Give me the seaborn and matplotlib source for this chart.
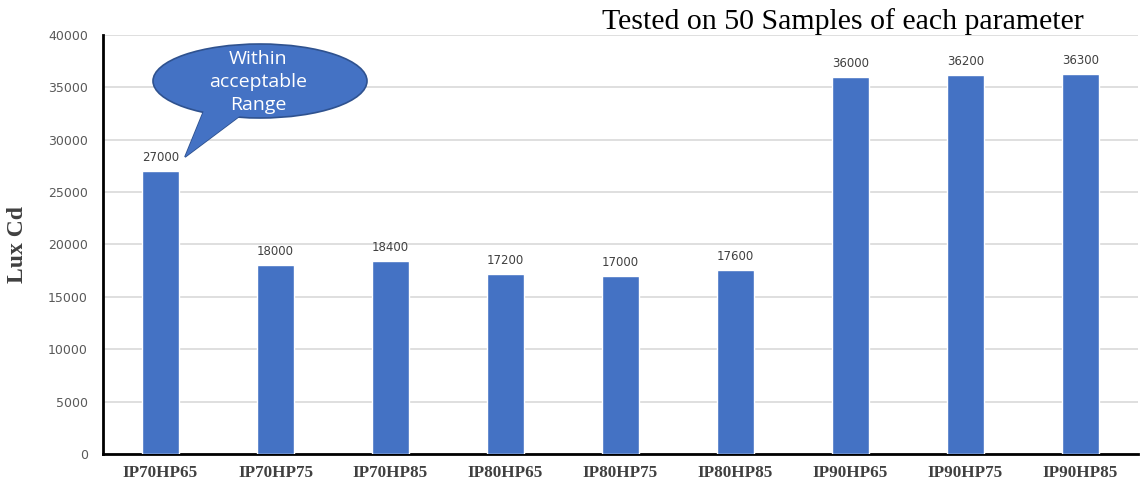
import matplotlib
matplotlib.use("Agg")
import matplotlib.pyplot as plt
from matplotlib.patches import Ellipse, Polygon
import seaborn as sns

# data
samples = ["IP70HP65", "IP70HP75", "IP70HP85", "IP80HP65", "IP80HP75",
           "IP80HP85", "IP90HP65", "IP90HP75", "IP90HP85"]
lux_cd = [27000, 18000, 18400, 17200, 17000, 17600, 36000, 36200, 36300]
y_ticks = list(range(0, 40001, 5000))

BAR_COLOR = "#4472C4"

sns.set_theme(style="white")
plt.rcParams["font.family"] = ["DejaVu Sans"]

fig = plt.figure(figsize=(11.41, 4.86), dpi=100)
ax = fig.add_axes([0.0903, 0.066, 0.907, 0.862])

sns.barplot(x=samples, y=lux_cd, color=BAR_COLOR, saturation=1,
            width=0.32, ax=ax, zorder=3)

ax.set_ylim(0, 40000)
ax.set_xlim(-0.5, len(samples) - 0.5)
ax.set_yticks(y_ticks)
ax.yaxis.grid(True, color="#d9d9d9", linewidth=1.2, zorder=0)
ax.set_axisbelow(True)

for side in ["top", "right"]:
    ax.spines[side].set_visible(False)
for side in ["left", "bottom"]:
    ax.spines[side].set_color("black")
    ax.spines[side].set_linewidth(2)

ax.tick_params(axis="y", labelsize=9, colors="#595959", length=0, pad=11)
ax.tick_params(axis="x", length=0, pad=8)
for lbl in ax.get_xticklabels():
    lbl.set_fontfamily("Liberation Serif")
    lbl.set_fontweight("bold")
    lbl.set_fontsize(12.3)
    lbl.set_color("#404040")

ax.set_xlabel("")
ax.set_ylabel("Lux Cd", fontfamily="Liberation Serif", fontweight="bold",
              fontsize=17, color="#404040", labelpad=14)

for c in ax.containers:
    ax.bar_label(c, labels=[str(v) for v in lux_cd], padding=5,
                 fontsize=8.5, color="#404040")

fig.text(0.528, 0.955, "Tested on 50 Samples of each parameter",
         fontfamily="Liberation Serif", fontsize=21.5, color="black",
         ha="left", va="center")

# callout bubble
tr = fig.transFigure
tail = [(205 / 1141, 1 - 108 / 486), (245 / 1141, 1 - 112 / 486),
        (185 / 1141, 1 - 157 / 486)]
ax.add_artist(Polygon(tail, closed=True, transform=tr, facecolor=BAR_COLOR,
                      edgecolor="#2F528F", linewidth=1.2, zorder=5))
ax.add_artist(Ellipse((260 / 1141, 1 - 81 / 486), 214 / 1141, 74 / 486,
                      transform=tr, facecolor=BAR_COLOR, edgecolor="#2F528F",
                      linewidth=1.2, zorder=6))
ax.add_artist(Polygon(tail, closed=True, transform=tr, facecolor=BAR_COLOR,
                      edgecolor="none", zorder=7))
fig.text(258 / 1141, 1 - 82 / 486, "Within\nacceptable\nRange",
         fontfamily="Open Sans", fontsize=14, color="white",
         ha="center", va="center", linespacing=1.38, zorder=8)

fig.savefig("out.png", dpi=100)
